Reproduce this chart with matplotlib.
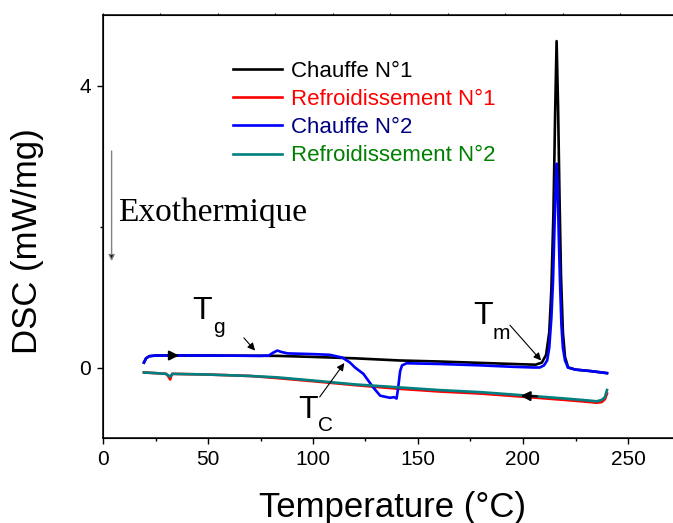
import matplotlib
matplotlib.use("Agg")
import matplotlib.pyplot as plt
from matplotlib.ticker import MultipleLocator

plt.rcParams['font.family'] = ['Liberation Sans', 'DejaVu Sans']

# Chauffe N°1 (temperature, DSC)
t_chauffe1 = [19.5, 20.5, 22, 25, 50, 83, 100, 120, 141, 160, 180, 200, 206,
              209, 211, 212.5, 213.5, 214.5, 215.3, 216, 216.7, 217.4, 218.1,
              219, 220, 221.5, 225, 232, 240]
dsc_chauffe1 = [0.07, 0.13, 0.16, 0.17, 0.17, 0.165, 0.15, 0.13, 0.10, 0.085,
                0.065, 0.045, 0.04, 0.07, 0.18, 0.5, 1.1, 2.2, 3.6, 4.63, 3.7,
                2.4, 1.3, 0.5, 0.15, 0.0, -0.03, -0.05, -0.08]

# Refroidissement N°1
t_refr1 = [19.5, 25, 30, 31, 32, 32.5, 33, 50, 70, 83, 102, 120, 140, 160,
           180, 198, 220, 232, 235, 237.5, 239, 240]
dsc_refr1 = [-0.07, -0.08, -0.09, -0.12, -0.17, -0.12, -0.09, -0.10, -0.12,
             -0.15, -0.20, -0.25, -0.30, -0.34, -0.37, -0.41, -0.46, -0.49,
             -0.50, -0.49, -0.45, -0.37]

# Chauffe N°2
t_chauffe2 = [19.5, 20.5, 22, 25, 40, 60, 75, 79, 81, 83, 85, 88, 100, 108,
              111, 114, 117.6, 120, 124, 128.6, 132, 136.7, 138.5, 139.8,
              140.5, 141.5, 142.4, 144.6, 160, 180, 195, 205, 208, 210,
              211.5, 212.5, 213.5, 214.3, 215, 215.6, 216, 216.5, 217,
              217.6, 218.3, 219, 220, 221.4, 225, 232, 240]
dsc_chauffe2 = [0.07, 0.13, 0.16, 0.17, 0.17, 0.168, 0.165, 0.17, 0.21, 0.24,
                0.22, 0.20, 0.19, 0.18, 0.16, 0.14, 0.07, 0.0, -0.09, -0.28,
                -0.40, -0.43, -0.42, -0.44, -0.30, -0.05, 0.03, 0.06, 0.05,
                0.03, 0.01, 0.0, 0.0, 0.03, 0.1, 0.28, 0.7, 1.23, 2.0, 2.6,
                2.89, 2.6, 1.9, 1.23, 0.6, 0.28, 0.1, 0.0, -0.03, -0.05, -0.08]

# Refroidissement N°2
t_refr2 = [19.5, 25, 30, 31, 32, 32.5, 33, 50, 70, 83, 102, 120, 140, 160,
           180, 198, 220, 232, 235, 237.5, 239, 240]
dsc_refr2 = [-0.07, -0.08, -0.09, -0.11, -0.13, -0.11, -0.09, -0.10, -0.12,
             -0.14, -0.19, -0.24, -0.28, -0.32, -0.35, -0.39, -0.44, -0.47,
             -0.48, -0.46, -0.42, -0.32]

labels = ["Chauffe N°1", "Refroidissement N°1", "Chauffe N°2", "Refroidissement N°2"]
line_colors = ["black", "red", "blue", "#008080"]
text_colors = ["black", "red", "#000080", "#008000"]

fig = plt.figure(figsize=(6.73, 5.23), dpi=100)
ax = fig.add_axes([103/673, 85/523, 588/673, 423/523])

ax.plot(t_chauffe1, dsc_chauffe1, color=line_colors[0], lw=1.9, label=labels[0])
ax.plot(t_refr1, dsc_refr1, color=line_colors[1], lw=1.9, label=labels[1])
ax.plot(t_chauffe2, dsc_chauffe2, color=line_colors[2], lw=1.9, label=labels[2])
ax.plot(t_refr2, dsc_refr2, color=line_colors[3], lw=1.9, label=labels[3])

ax.set_xlim(0, 280)
ax.set_ylim(-1, 5)
ax.xaxis.set_major_locator(MultipleLocator(50))
ax.xaxis.set_minor_locator(MultipleLocator(25))
ax.yaxis.set_major_locator(MultipleLocator(4))
ax.yaxis.set_minor_locator(MultipleLocator(2))
ax.tick_params(which='both', direction='out', labelsize=15, width=1, pad=4)
ax.tick_params(which='major', length=4.5)
ax.tick_params(which='minor', length=2.5)
for s in ax.spines.values():
    s.set_linewidth(1.1)

# top axis (Origin style, own scale)
top = ax.twiny()
top.set_xlim(0, 255.7)
top.xaxis.set_major_locator(MultipleLocator(25))
top.tick_params(direction='out', length=1.5, width=0.8, labeltop=False)

ax.set_xlabel("Temperature (°C)", fontsize=25)
ax.set_ylabel("DSC (mW/mg)", fontsize=25)
ax.xaxis.set_label_coords(0.4915, -0.125)
ax.yaxis.set_label_coords(-0.1, 0.466)

leg = ax.legend(loc='upper left', bbox_to_anchor=(233/673, 1 - 61/523),
                bbox_transform=fig.transFigure, frameon=False, fontsize=16,
                handlelength=2.2, handletextpad=0.4, labelspacing=0.32,
                borderpad=0, borderaxespad=0)
for txt, c in zip(leg.get_texts(), text_colors):
    txt.set_color(c)

# direction arrows on the curves
ax.annotate('', xy=(37.5, 0.17), xytext=(30, 0.17),
            arrowprops=dict(arrowstyle='-|>', color='k', lw=1.5, mutation_scale=14))
ax.annotate('', xy=(197.5, -0.40), xytext=(208, -0.41),
            arrowprops=dict(arrowstyle='-|>', color='k', lw=1.5, mutation_scale=14))

# Exothermique
ax.annotate('', xy=(4.1, 1.47), xytext=(4.1, 3.11),
            arrowprops=dict(arrowstyle='-|>', ec='gray', fc='k', lw=1,
                            mutation_scale=9))
ax.text(7.1, 2.08, "Exothermique", fontsize=24, family='Liberation Serif',
        va='baseline')

# Tg, Tc, Tm
arrow_kw = dict(arrowstyle='-|>', color='k', lw=0.8, mutation_scale=11)
ax.text(42.4, 0.69, "T", fontsize=23, va='baseline')
ax.text(52.4, 0.49, "g", fontsize=15, va='baseline')
ax.annotate('', xy=(73.3, 0.21), xytext=(66.2, 0.45), arrowprops=arrow_kw)

ax.text(92.9, -0.71, "T", fontsize=23, va='baseline')
ax.text(102.4, -0.90, "C", fontsize=15, va='baseline')
ax.annotate('', xy=(115.7, 0.095), xytext=(102.4, -0.45), arrowprops=arrow_kw)

ax.text(176.2, 0.62, "T", fontsize=23, va='baseline')
ax.text(185.7, 0.41, "m", fontsize=15, va='baseline')
ax.annotate('', xy=(209.5, 0.07), xytext=(192.9, 0.63), arrowprops=arrow_kw)

fig.savefig("out.png", dpi=100)
